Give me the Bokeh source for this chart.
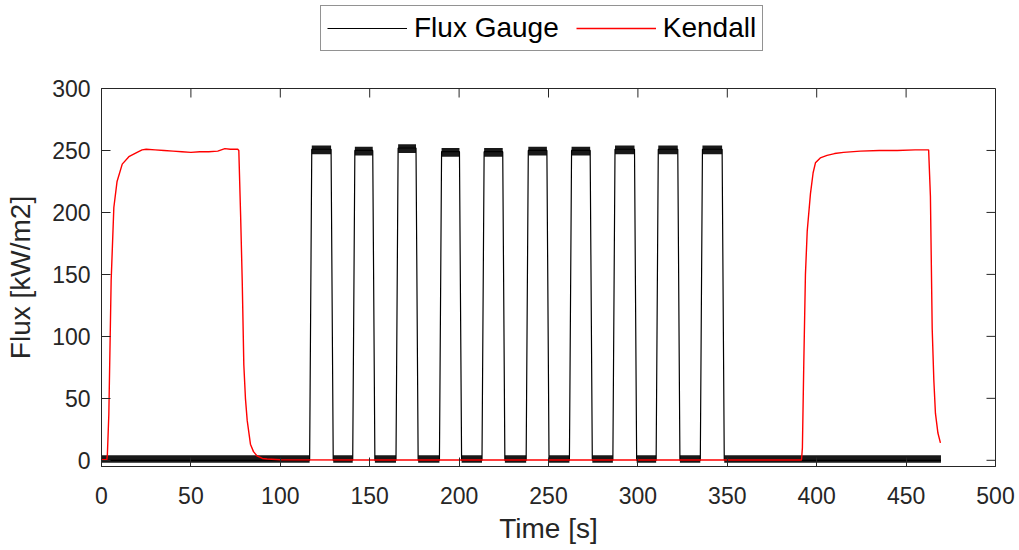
from bokeh.plotting import figure
from bokeh.models import Range1d, FixedTicker, Legend, LegendItem
from bokeh.layouts import column
from bokeh.embed import file_html
from bokeh.resources import INLINE

# ---------------- data ----------------
# Kendall radiometer trace (time [s], flux [kW/m2])
kendall_t = [0, 3.0, 3.3, 4.1, 5.4, 6.9, 8.7, 11.6, 15.3, 19.9, 22.7, 25, 30, 35,
             40, 45, 50, 55, 60, 65, 69, 72, 76.2, 76.8, 77.8, 78.7, 79.6, 80.5,
             81.5, 83.3, 85, 87, 90, 92.6, 100, 150, 200, 250, 300, 350, 391.5,
             392.0, 392.8, 393.7, 394.7, 396.5, 398.0, 399.3, 402.0, 405.8, 410,
             415, 424.4, 435, 445, 455, 462.6, 463.6, 464.6, 465.5, 466.4, 467.8,
             469.2]
kendall_v = [0.5, 0.5, 5, 37, 145, 204, 225, 239, 245, 248.5, 250.5, 251, 250.5, 250,
             249.5, 249, 248.5, 249, 249, 249.5, 251.5, 251, 251, 250, 198, 145, 77, 50,
             32, 13, 7, 3.5, 1.5, 1, 0.5, 0.3, 0.3, 0.3, 0.3, 0.3, 0.3,
             10, 80, 150, 185, 215, 232, 240, 244, 246, 247.5,
             248.5, 249.5, 250, 250, 250.5, 250.5, 213, 106, 65, 38, 22,
             14]

# Flux gauge: square pulses
pulse_on = [117.0, 141.1, 165.3, 189.6, 213.4, 238.1, 262.3, 286.6, 310.8, 335.5]
pulse_off = [129.0, 152.3, 176.5, 200.8, 225.0, 249.7, 273.9, 298.7, 322.9, 347.7]
pulse_level = [251, 250, 252, 249, 249, 250, 250, 251, 251, 251]
gauge_start = 0.0
gauge_end = 469.5
gauge_base = 0.0
# visible noise envelope of the gauge signal (kW/m2 around base / pulse level)
noise_low = [-2.0, -4.0]    # [baseline, pulse top]
noise_high = [4.0, 3.0]

series_names = ["Flux Gauge", "Kendall"]
x_ticks = [0, 50, 100, 150, 200, 250, 300, 350, 400, 450, 500]
y_ticks = [0, 50, 100, 150, 200, 250, 300]

# ---------------- build gauge trace from pulse table ----------------
edge = 0.6
gt, gv = [gauge_start], [gauge_base]
for on, off, lv in zip(pulse_on, pulse_off, pulse_level):
    gt += [on - edge, on + edge, off - edge, off + edge]
    gv += [gauge_base, lv, lv, gauge_base]
gt.append(gauge_end)
gv.append(gauge_base)

# noise band segments
bl, br, bb, btop = [], [], [], []
starts = [gauge_start] + [o + edge for o in pulse_off]
ends = [o - edge for o in pulse_on] + [gauge_end]
for s, e in zip(starts, ends):
    bl.append(s); br.append(e)
    bb.append(gauge_base + noise_low[0]); btop.append(gauge_base + noise_high[0])
for on, off, lv in zip(pulse_on, pulse_off, pulse_level):
    bl.append(on + edge); br.append(off - edge)
    bb.append(lv + noise_low[1]); btop.append(lv + noise_high[1])

# ---------------- layout constants ----------------
FONT = "Liberation Sans"
AX = "#262626"
RED = "#ff0000"
X0, X1, Y0, Y1 = 0, 500, -5, 300
W = 1017
LEG_H = 74
H = 475
BL, BR, BT, BB = 101, 22, 14, 83
FW, FH = W - BL - BR, H - BT - BB
TICK = 9  # px
NAN = float("nan")

# ---------------- legend strip ----------------
leg = figure(width=W, height=LEG_H, output_backend="svg", toolbar_location=None,
             x_axis_type=None, y_axis_type=None, min_border=0,
             x_range=Range1d(0, 1), y_range=Range1d(0, 1))
leg.outline_line_color = None
leg.grid.visible = False
lg = leg.line([NAN], [NAN], line_color="black", line_width=1.2)
lk = leg.line([NAN], [NAN], line_color=RED, line_width=1.4)
legend = Legend(items=[LegendItem(label=series_names[0], renderers=[lg]),
                       LegendItem(label=series_names[1], renderers=[lk])],
                orientation="horizontal", location=(219, 23),
                label_text_font=FONT, label_text_font_size="28px",
                label_text_color="black", glyph_width=80, glyph_height=28,
                label_standoff=7, spacing=17, padding=6, margin=0,
                border_line_color=AX, border_line_width=1,
                background_fill_alpha=1.0)
leg.add_layout(legend, "center")

# ---------------- main plot ----------------
p = figure(width=W, height=H, output_backend="svg", toolbar_location=None,
           x_range=Range1d(X0, X1), y_range=Range1d(Y0, Y1),
           min_border_left=BL, min_border_right=BR, min_border_top=BT,
           min_border_bottom=BB)
p.background_fill_color = "white"
p.border_fill_color = "white"
p.outline_line_color = AX
p.outline_line_width = 1
p.grid.visible = False

for ax in (p.xaxis[0], p.yaxis[0]):
    ax.major_tick_in = TICK
    ax.major_tick_out = 0
    ax.minor_tick_line_color = None
    ax.axis_line_color = AX
    ax.major_tick_line_color = AX
    ax.major_label_text_font = FONT
    ax.major_label_text_font_size = "23px"
    ax.major_label_text_color = AX
    ax.axis_label_text_font = FONT
    ax.axis_label_text_font_size = "28px"
    ax.axis_label_text_font_style = "normal"
    ax.axis_label_text_color = AX

p.xaxis[0].ticker = FixedTicker(ticks=x_ticks)
p.yaxis[0].ticker = FixedTicker(ticks=y_ticks)
p.xaxis[0].axis_label = "Time [s]"
p.yaxis[0].axis_label = "Flux [kW/m2]"
p.xaxis[0].major_label_standoff = 20
p.xaxis[0].axis_label_standoff = 6
p.yaxis[0].major_label_standoff = 11
p.yaxis[0].axis_label_standoff = 13

# mirrored inward ticks on the top and right edges of the box
ty = TICK * (Y1 - Y0) / FH
tx = TICK * (X1 - X0) / FW
p.segment(x0=x_ticks, x1=x_ticks, y0=[Y1] * len(x_ticks), y1=[Y1 - ty] * len(x_ticks),
          line_color=AX, line_width=1)
p.segment(x0=[X1] * len(y_ticks), x1=[X1 - tx] * len(y_ticks), y0=y_ticks, y1=y_ticks,
          line_color=AX, line_width=1)

# gauge
p.quad(left=bl, right=br, bottom=bb, top=btop, fill_color="black", line_color=None,
       fill_alpha=0.9)
p.line(gt, gv, line_color="black", line_width=1.2)
# kendall
p.line(kendall_t, kendall_v, line_color=RED, line_width=1.4)

layout = column(leg, p, spacing=0)
open("out.html", "w").write(file_html(layout, INLINE))
